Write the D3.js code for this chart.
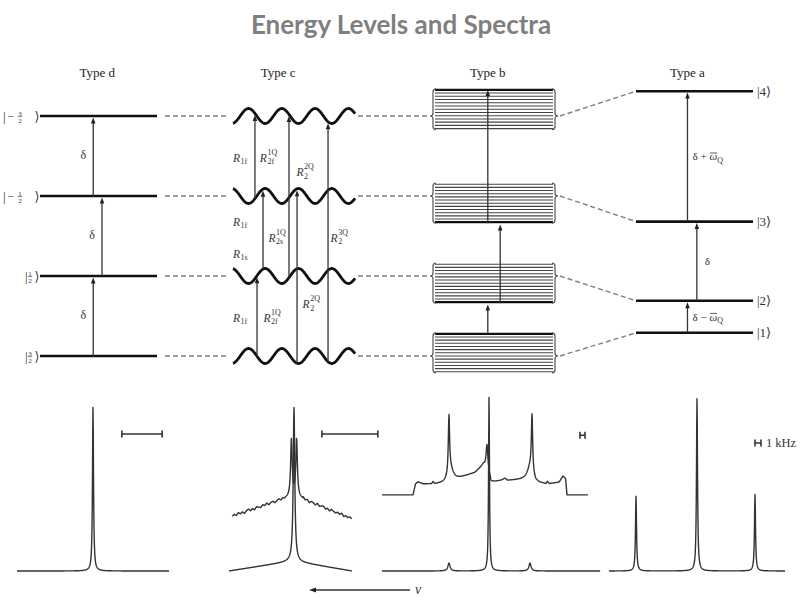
<!DOCTYPE html>
<html>
<head>
<meta charset="utf-8">
<script src="https://cdn.jsdelivr.net/npm/d3@7"></script>
<style>
  body { margin: 0; background: #fff; }
  svg { display: block; }
  .serif { font-family: "Liberation Serif", "Times New Roman", "DejaVu Serif", serif; }
</style>
</head>
<body>
<svg id="chart" width="803" height="597"></svg>
<script>
// ---------------------------------------------------------------------------
// Data (energies in units of the type-d spacing δ, spectra in arbitrary units)
// ---------------------------------------------------------------------------
const TITLE = 'Energy Levels and Spectra';
const columnNames = ['Type d', 'Type c', 'Type b', 'Type a'];

// Type d: four equally spaced Zeeman levels
const levelsD = [0, 1, 2, 3];
const ketsD = [
  { sign: '',  num: '3', den: '2' },
  { sign: '',  num: '1', den: '2' },
  { sign: '−', num: '1', den: '2' },
  { sign: '−', num: '3', den: '2' },
];
const arrowsD = [
  { from: 0, to: 1, at: 0.455 },
  { from: 1, to: 2, at: 0.53 },
  { from: 2, to: 3, at: 0.455 },
];

// Type c: broadened (wavy) levels, phase 0 = crest first, 1 = trough first
const levelsC = [0, 1, 2, 3];
const phasesC = [0, 1, 1, 0];
const arrowsC = [
  { from: 2, to: 3, at: 0.18 },
  { from: 0, to: 1, at: 0.197 },
  { from: 1, to: 2, at: 0.246 },
  { from: 1, to: 3, at: 0.459 },
  { from: 0, to: 2, at: 0.525 },
  { from: 0, to: 3, at: 0.779 },
];
const labelsC = [
  { sub: '1f', sup: '',   at: 0.0,  e: 2.475 },
  { sub: '2f', sup: '1Q', at: 0.22, e: 2.475 },
  { sub: '2',  sup: '2Q', at: 0.52, e: 2.29 },
  { sub: '1f', sup: '',   at: 0.0,  e: 1.675 },
  { sub: '2s', sup: '1Q', at: 0.29, e: 1.475 },
  { sub: '2',  sup: '3Q', at: 0.80, e: 1.475 },
  { sub: '1s', sup: '',   at: 0.0,  e: 1.275 },
  { sub: '2',  sup: '2Q', at: 0.57, e: 0.64 },
  { sub: '1f', sup: '',   at: 0.0,  e: 0.475 },
  { sub: '2f', sup: '1Q', at: 0.25, e: 0.475 },
];

// Type b: bands of sublevels
const bandsB = [
  { top: 0.29, bottom: -0.21, tip: 0.0, edge: 'top' },
  { top: 1.16, bottom: 0.66,  tip: 1.0, edge: 'bottom' },
  { top: 2.16, bottom: 1.66,  tip: 2.0, edge: 'bottom' },
  { top: 3.34, bottom: 2.83,  tip: 3.0, edge: 'top' },
];
const sublevelsPerBand = 13;
const arrowsB = [
  { from: 0.29, to: 0.66, at: 0.45 },
  { from: 0.66, to: 1.66, at: 0.55 },
  { from: 1.66, to: 3.34, at: 0.45 },
];

// Type a: quadrupole-split levels
const levelsA = [0.29, 0.69, 1.68, 3.31];
const ketsA = ['1', '2', '3', '4'];
const arrowsA = [
  { from: 0.29, to: 0.69, at: 0.44, op: '−' },
  { from: 0.69, to: 1.68, at: 0.52, op: '' },
  { from: 1.68, to: 3.31, at: 0.44, op: '+' },
];

// Spectra: background polylines [freq, intensity], Lorentzian peaks [freq, height, width]
const specD_bg = [[-1, 0], [1, 0]];
const specD_peaks = [[0, 0.94, 0.008]];

const specC_lower_bg = [[-1, 0], [-0.14, 0.05], [0, 0.06], [0.1, 0.05], [0.89, 0]];
const specC_lower_peaks = [[0, 0.88, 0.014]];
const specC_upper_bg = [[-0.95, 0.315], [-0.15, 0.415], [0, 0.43], [0.12, 0.415], [0.89, 0.3]];
const specC_upper_peaks = [[-0.04, 0.33, 0.014], [0.04, 0.33, 0.014]];
// measurement noise on the wings of the upper type-c trace
const specC_upper_noise = [
  0, .007, -.005, .009, -.003, .006, -.008, .004, .010, -.004, .005, -.007, .008, .001, -.006,
  .007, -.002, .009, -.005, .003, .007, -.006, .002, .008, -.004, .005, -.005, .006, .001, 0,
  0, -.004, .006, -.007, .004, .008, -.003, .006, -.008, .005, .002, -.006, .009, -.004, .003,
  .007, -.005, .004, -.007, .008, .001, -.005, .006, -.003, .009, -.006, .004, -.002, .006, 0,
];

const specB_lower_bg = [[-1, 0], [1.02, 0]];
const specB_lower_peaks = [[-0.38, 0.045, 0.012], [0.37, 0.045, 0.012], [-0.009, 1.0, 0.005]];
const specB_upper_bg = [
  [-1, 0.437], [-0.713, 0.437], [-0.69, 0.50], [-0.667, 0.512], [-0.62, 0.50], [-0.54, 0.50],
  [-0.528, 0.512], [-0.51, 0.50], [-0.42, 0.505], [-0.30, 0.53], [-0.14, 0.565], [-0.06, 0.61],
  [-0.012, 0.56], [0.01, 0.51], [0.10, 0.52], [0.14, 0.532], [0.16, 0.52], [0.30, 0.525],
  [0.36, 0.53], [0.42, 0.505], [0.52, 0.50], [0.53, 0.512], [0.55, 0.50], [0.64, 0.51],
  [0.676, 0.545], [0.70, 0.53], [0.713, 0.437], [0.907, 0.437],
];
const specB_upper_peaks = [
  [-0.38, 0.33, 0.007], [-0.365, 0.07, 0.03], [-0.028, 0.15, 0.01],
  [0.389, 0.33, 0.007], [0.374, 0.07, 0.03],
];

const specA_bg = [[-1, 0], [1, 0]];
const specA_peaks = [[-0.693, 0.43, 0.007], [0.0, 0.99, 0.007], [0.659, 0.44, 0.007]];

// scale bars
const scaleBars = [
  { panel: 'd', f0: 0.38, f1: 0.91, I: 0.787, text: '' },
  { panel: 'c', f0: 0.43, f1: 1.29, I: 0.787, text: '' },
  { panel: 'b', f0: 0.833, f1: 0.88, I: 0.78, text: '' },
  { panel: 'a', f0: 0.659, f1: 0.727, I: 0.736, text: '1 kHz' },
];

// ---------------------------------------------------------------------------
// Layout
// ---------------------------------------------------------------------------
const INK = '#222';
const TXT = '#333';

const svg = d3.select('#chart');

const yE = d3.scaleLinear().domain([0, 3]).range([356, 116]);   // energy → y
const xD = d3.scaleLinear().domain([0, 1]).range([40, 157]);
const xC = d3.scaleLinear().domain([0, 1]).range([233, 355]);
const xB = d3.scaleLinear().domain([0, 1]).range([432, 556]);
const xA = d3.scaleLinear().domain([0, 1]).range([636, 753]);
const headPos = [xD(0.49), xC(0.37), xB(0.45), xA(0.44)];

const yI = d3.scaleLinear().domain([0, 1]).range([571, 397]);   // intensity → y
const xSpec = {
  d: d3.scaleLinear().domain([-1, 1]).range([17, 169]),
  c: d3.scaleLinear().domain([-1, 1]).range([229, 359]),
  b: d3.scaleLinear().domain([-1, 1]).range([382, 598]),
  a: d3.scaleLinear().domain([-1, 1]).range([609, 785]),
};

// ---------------------------------------------------------------------------
// Title + headers
// ---------------------------------------------------------------------------
svg.append('text')
  .attr('x', 401).attr('y', 34)
  .attr('text-anchor', 'middle')
  .style('font-family', "Lato, 'Open Sans', sans-serif")
  .attr('font-weight', 700)
  .attr('font-size', 26)
  .attr('fill', '#7f7f7f')
  .text(TITLE);

svg.append('g').attr('class', 'serif').selectAll('text')
  .data(columnNames)
  .join('text')
  .attr('x', (d, i) => headPos[i])
  .attr('y', 77)
  .attr('text-anchor', 'middle')
  .attr('font-size', 13)
  .attr('fill', INK)
  .text(d => d);

// ---------------------------------------------------------------------------
// Helpers
// ---------------------------------------------------------------------------
function upArrow(g, x, y0, y1) {
  const head = 6, hw = 2.3;
  g.append('line')
    .attr('x1', x).attr('x2', x)
    .attr('y1', y0).attr('y2', y1 + head - 1)
    .attr('stroke', '#333').attr('stroke-width', 1.3);
  g.append('path')
    .attr('d', `M${x},${y1}L${x - hw},${y1 + head}L${x + hw},${y1 + head}Z`)
    .attr('fill', '#222');
}

function dashed(g, x1, y1, x2, y2) {
  g.append('line')
    .attr('x1', x1).attr('y1', y1).attr('x2', x2).attr('y2', y2)
    .attr('stroke', '#808080').attr('stroke-width', 1.4)
    .attr('stroke-dasharray', '5,3');
}

// curly brace, s = -1 tip to the left, +1 tip to the right
function brace(g, x, yt, ym, yb, s) {
  const r = 3, d = 3;
  const p = `M${x - s * r},${yt} Q${x},${yt} ${x},${yt + r} L${x},${ym - r} ` +
            `Q${x},${ym} ${x + s * d},${ym} Q${x},${ym} ${x},${ym + r} ` +
            `L${x},${yb - r} Q${x},${yb} ${x - s * r},${yb}`;
  g.append('path').attr('d', p).attr('fill', 'none')
    .attr('stroke', '#555').attr('stroke-width', 1.2);
}

const WAVE_LEN = 33.3, WAVE_AMP = 7.5;
function waveY(level, phase, px) {
  const c = Math.cos(2 * Math.PI * (px - 248.5) / WAVE_LEN);
  return yE(level) + (phase ? 1 : -1) * WAVE_AMP * c;
}

// ---------------------------------------------------------------------------
// Type d
// ---------------------------------------------------------------------------
const gD = svg.append('g').attr('class', 'serif');
gD.selectAll('line.lvl')
  .data(levelsD)
  .join('line')
  .attr('class', 'lvl')
  .attr('x1', xD(0)).attr('x2', xD(1))
  .attr('y1', d => yE(d)).attr('y2', d => yE(d))
  .attr('stroke', '#111').attr('stroke-width', 2.6);

levelsD.forEach((lv, i) => {
  const y = yE(lv);
  const k = ketsD[i];
  const fx = k.sign ? 20 : 30;
  const t = gD.append('g').attr('fill', TXT);
  t.append('text').attr('x', k.sign ? 3 : 25).attr('y', y + 4.5).attr('font-size', 13).text('|');
  if (k.sign) t.append('text').attr('x', 10.5).attr('y', y + 4).attr('text-anchor', 'middle').attr('font-size', 11).text(k.sign);
  t.append('text').attr('x', fx).attr('y', y - 0.5).attr('text-anchor', 'middle').attr('font-size', 7).text(k.num);
  t.append('line').attr('x1', fx - 2.3).attr('x2', fx + 2.3).attr('y1', y + 0.6).attr('y2', y + 0.6)
    .attr('stroke', TXT).attr('stroke-width', 0.6);
  t.append('text').attr('x', fx).attr('y', y + 6.8).attr('text-anchor', 'middle').attr('font-size', 7).text(k.den);
  t.append('text').attr('x', xD(0) - 0.5).attr('y', y + 5).attr('text-anchor', 'end')
    .style('font-family', "'DejaVu Sans', sans-serif").attr('font-size', 13).text('⟩');
  dashed(gD, xD(1) + 8, y, xC(0) - 5, y);
});

arrowsD.forEach(a => {
  const x = xD(a.at);
  upArrow(gD, x, yE(a.from), yE(a.to) + 1.4);
  gD.append('text')
    .attr('x', x - 10).attr('y', (yE(a.from) + yE(a.to)) / 2 + 3)
    .attr('text-anchor', 'middle')
    .attr('font-size', 12).attr('fill', TXT)
    .text('δ');
});

// ---------------------------------------------------------------------------
// Type c
// ---------------------------------------------------------------------------
const gC = svg.append('g').attr('class', 'serif');
const wavePx = d3.range(xC(0), xC(1) + 0.25, 0.5);
levelsC.forEach((lv, i) => {
  gC.append('path')
    .attr('d', d3.line().x(px => px).y(px => waveY(lv, phasesC[i], px))(wavePx))
    .attr('fill', 'none').attr('stroke', '#111').attr('stroke-width', 2.8);
  dashed(gC, xC(1) + 3, yE(lv), xB(0) - 4, yE(lv));
});

arrowsC.forEach(a => {
  const x = xC(a.at);
  upArrow(gC, x, waveY(levelsC[a.from], phasesC[a.from], x),
    waveY(levelsC[a.to], phasesC[a.to], x) + 1.6);
});

labelsC.forEach(l => {
  const x = xC(l.at), yb = yE(l.e) + 3.5;
  const t = gC.append('g').attr('fill', TXT);
  t.append('text').attr('x', x).attr('y', yb).attr('font-size', 11.5)
    .attr('font-style', 'italic').text('R');
  if (l.sup) t.append('text').attr('x', x + 7.6).attr('y', yb - 7).attr('font-size', 8).text(l.sup);
  t.append('text').attr('x', x + 7.6).attr('y', yb + 2.5).attr('font-size', 8).text(l.sub);
});

// ---------------------------------------------------------------------------
// Type b
// ---------------------------------------------------------------------------
const gB = svg.append('g');
bandsB.forEach((b, i) => {
  const yt = yE(b.top), yb = yE(b.bottom);
  const ys = d3.scaleLinear().domain([0, sublevelsPerBand - 1]).range([yt + 1, yb - 1]);
  d3.range(sublevelsPerBand).forEach(k => {
    const thick = (b.edge === 'top' && k === 0) || (b.edge === 'bottom' && k === sublevelsPerBand - 1);
    gB.append('line')
      .attr('x1', xB(0) + 3).attr('x2', xB(1) - 3)
      .attr('y1', ys(k)).attr('y2', ys(k))
      .attr('stroke', thick ? '#111' : '#444')
      .attr('stroke-width', thick ? 2.2 : 1.05);
  });
  brace(gB, xB(0) + 1, yt, yE(b.tip), yb, -1);
  brace(gB, xB(1) - 1, yt, yE(b.tip), yb, 1);
  dashed(gB, xB(1) + 4, yE(b.tip), xA(0), yE(levelsA[i]));
});

arrowsB.forEach(a => {
  const x = xB(a.at);
  upArrow(gB, x, yE(a.from), yE(a.to) + 1.2);
});

// ---------------------------------------------------------------------------
// Type a
// ---------------------------------------------------------------------------
const gA = svg.append('g').attr('class', 'serif');
gA.selectAll('line.lvl')
  .data(levelsA)
  .join('line')
  .attr('class', 'lvl')
  .attr('x1', xA(0)).attr('x2', xA(1))
  .attr('y1', d => yE(d)).attr('y2', d => yE(d))
  .attr('stroke', '#111').attr('stroke-width', 2.6);

levelsA.forEach((lv, i) => {
  const t = gA.append('text')
    .attr('x', xA(1) + 4).attr('y', yE(lv) + 4.5)
    .attr('font-size', 13).attr('fill', TXT);
  t.append('tspan').text('|' + ketsA[i]);
  t.append('tspan').style('font-family', "'DejaVu Sans', sans-serif").text('⟩');
});

arrowsA.forEach(a => {
  const x = xA(a.at);
  upArrow(gA, x, yE(a.from), yE(a.to) + 1.4);
  const ym = (yE(a.from) + yE(a.to)) / 2 + 4;
  const t = gA.append('text')
    .attr('x', x + (a.op ? 5 : 8)).attr('y', ym)
    .attr('font-size', 11).attr('fill', TXT);
  t.append('tspan').text('δ');
  if (a.op) {
    t.append('tspan').text(' ' + a.op + ' ');
    t.append('tspan').attr('font-style', 'italic').text('ω');
    t.append('tspan').attr('font-size', 8).attr('dy', 2.5).text('Q');
    const box = t.node().getExtentOfChar(4);
    gA.append('line')
      .attr('x1', box.x + 0.8).attr('x2', box.x + box.width - 0.2)
      .attr('y1', box.y + 2.6).attr('y2', box.y + 2.6)
      .attr('stroke', TXT).attr('stroke-width', 0.8);
  }
});

// ---------------------------------------------------------------------------
// Spectra
// ---------------------------------------------------------------------------
const traces = [
  { panel: 'd', bg: specD_bg, peaks: specD_peaks },
  { panel: 'c', bg: specC_lower_bg, peaks: specC_lower_peaks },
  { panel: 'c', bg: specC_upper_bg, peaks: specC_upper_peaks, noise: specC_upper_noise },
  { panel: 'b', bg: specB_lower_bg, peaks: specB_lower_peaks },
  { panel: 'b', bg: specB_upper_bg, peaks: specB_upper_peaks },
  { panel: 'a', bg: specA_bg, peaks: specA_peaks },
];

const gS = svg.append('g');
traces.forEach(tr => {
  const xs = xSpec[tr.panel];
  const base = d3.scaleLinear().domain(tr.bg.map(p => p[0])).range(tr.bg.map(p => p[1]));
  const f0 = tr.bg[0][0], f1 = tr.bg[tr.bg.length - 1][0];
  let noise = null;
  if (tr.noise) {
    const n = tr.noise.length;
    noise = d3.scaleLinear()
      .domain(tr.noise.map((v, i) => f0 + i * (f1 - f0) / (n - 1)))
      .range(tr.noise);
  }
  const px = d3.range(xs(f0), xs(f1), 0.25).concat([xs(f1)]);
  const pts = px.map(p => {
    const f = xs.invert(p);
    let I = base(f);
    if (noise && Math.abs(f) > 0.14) I += noise(f);
    tr.peaks.forEach(([c, h, w]) => { I += h / (1 + ((f - c) / w) ** 2); });
    return [p, yI(I)];
  });
  gS.append('path')
    .attr('d', d3.line()(pts))
    .attr('fill', 'none')
    .attr('stroke', '#333')
    .attr('stroke-width', 1.4)
    .attr('stroke-linejoin', 'round');
});

scaleBars.forEach(s => {
  const xs = xSpec[s.panel];
  const x0 = xs(s.f0), x1 = xs(s.f1), y = yI(s.I);
  gS.append('path')
    .attr('d', `M${x0},${y - 3.5}V${y + 3.5}M${x0},${y}H${x1}M${x1},${y - 3.5}V${y + 3.5}`)
    .attr('fill', 'none').attr('stroke', '#333').attr('stroke-width', 1.6);
  if (s.text) {
    gS.append('text')
      .attr('class', 'serif')
      .attr('x', x1 + 5).attr('y', y + 4)
      .attr('font-size', 12.5).attr('fill', TXT)
      .text(s.text);
  }
});

// frequency axis arrow
gS.append('line')
  .attr('x1', 410).attr('x2', 315).attr('y1', 590).attr('y2', 590)
  .attr('stroke', '#333').attr('stroke-width', 1.3);
gS.append('path').attr('d', 'M309,590L316,587.6L316,592.4Z').attr('fill', '#222');
gS.append('text')
  .attr('class', 'serif')
  .attr('x', 415).attr('y', 594)
  .attr('font-style', 'italic').attr('font-size', 14).attr('fill', TXT)
  .text('ν');
</script>
</body>
</html>
